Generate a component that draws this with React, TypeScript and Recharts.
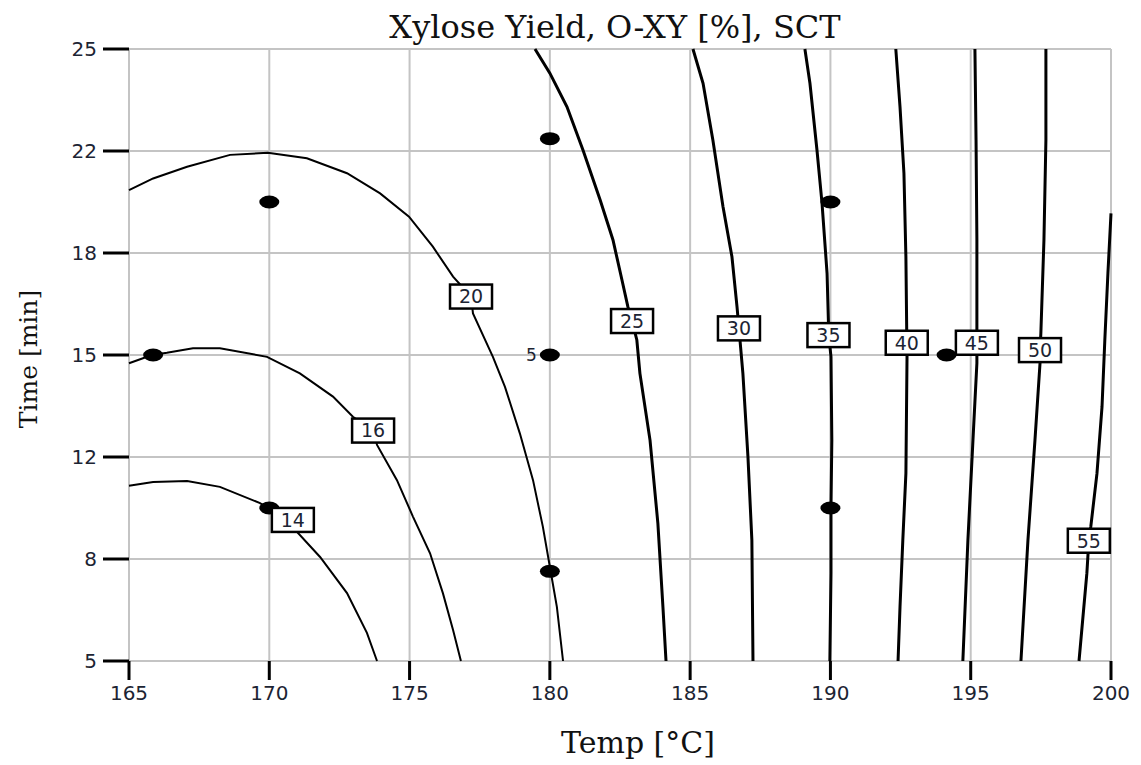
import React from 'react';
import { ComposedChart, Line, Scatter, XAxis, YAxis, CartesianGrid } from 'recharts';

// axis ticks
const tempTicks = [165, 170, 175, 180, 185, 190, 195, 200];
const timeTicks = [5, 25 / 3, 35 / 3, 15, 55 / 3, 65 / 3, 25];

// contour lines, [temp, time] pairs traced along each level
const c14 = [[165, 10.73], [165.86, 10.85], [167.07, 10.88], [168.24, 10.69], [169.67, 10.16], [169.95, 10.0], [170.84, 9.61], [170.99, 9.22], [171.81, 8.4], [172.77, 7.22], [173.48, 5.92], [173.84, 5.0]];
const c16 = [[165, 14.73], [165.82, 15.0], [166.35, 15.07], [167.28, 15.22], [168.24, 15.22], [169.92, 14.94], [171.09, 14.4], [172.27, 13.64], [172.98, 12.98], [173.7, 12.53], [173.84, 12.06], [174.55, 10.91], [175.12, 9.72], [175.73, 8.52], [176.19, 7.21], [176.55, 6.01], [176.83, 5.0]];
const c20 = [[165, 20.39], [165.86, 20.77], [167.07, 21.15], [168.6, 21.54], [169.95, 21.61], [171.34, 21.43], [172.77, 20.94], [173.95, 20.28], [174.98, 19.52], [175.83, 18.54], [176.55, 17.56], [177.19, 16.91], [177.26, 16.36], [177.97, 14.94], [178.4, 13.96], [178.93, 12.44], [179.4, 10.91], [179.75, 9.39], [180.0, 8.08], [180.25, 6.77], [180.47, 5.0]];
const c25 = [[179.47, 25], [180.0, 24.21], [180.61, 23.11], [181.18, 21.7], [181.79, 20.07], [182.25, 18.76], [182.57, 17.45], [182.78, 16.58], [182.93, 16.11], [183.1, 15.49], [183.21, 14.4], [183.57, 12.22], [183.85, 9.5], [184.03, 6.77], [184.14, 5.0]];
const c30 = [[185.1, 25], [185.46, 23.88], [185.81, 22.03], [186.17, 19.85], [186.49, 18.21], [186.67, 16.58], [186.74, 15.87], [186.88, 14.4], [187.06, 11.68], [187.2, 8.95], [187.24, 5.0]];
const c35 = [[189.09, 25], [189.27, 23.88], [189.52, 21.7], [189.7, 19.96], [189.88, 17.67], [189.93, 16.04], [189.94, 15.65], [190.02, 14.94], [190.05, 12.22], [190.02, 10.04], [190.02, 7.87], [189.98, 5.0]];
const c40 = [[192.33, 25], [192.48, 23.11], [192.62, 20.94], [192.69, 18.21], [192.72, 15.71], [192.72, 15.4], [192.73, 14.94], [192.69, 11.13], [192.58, 8.95], [192.48, 6.77], [192.41, 5.0]];
const c45 = [[195.15, 25], [195.19, 22.03], [195.22, 18.76], [195.22, 15.71], [195.22, 15.4], [195.22, 14.73], [195.08, 12.22], [194.9, 8.95], [194.72, 5.0]];
const c50 = [[197.68, 25], [197.68, 22.03], [197.61, 18.76], [197.5, 15.71], [197.47, 15.16], [197.47, 14.73], [197.29, 12.22], [197.04, 8.95], [196.79, 5.0]];
const c55 = [[200, 19.63], [199.89, 17.67], [199.78, 15.49], [199.68, 13.31], [199.5, 11.13], [199.28, 9.39], [199.21, 8.93], [199.14, 7.87], [198.86, 5.0]];

const contours = [
  { level: 14, pts: c14 },
  { level: 16, pts: c16 },
  { level: 20, pts: c20 },
  { level: 25, pts: c25 },
  { level: 30, pts: c30 },
  { level: 35, pts: c35 },
  { level: 40, pts: c40 },
  { level: 45, pts: c45 },
  { level: 50, pts: c50 },
  { level: 55, pts: c55 },
];

// where the level boxes sit on each line
const contourLabels = [
  { level: 14, x: 170.84, y: 9.61 },
  { level: 16, x: 173.7, y: 12.53 },
  { level: 20, x: 177.19, y: 16.91 },
  { level: 25, x: 182.93, y: 16.11 },
  { level: 30, x: 186.74, y: 15.87 },
  { level: 35, x: 189.93, y: 15.65 },
  { level: 40, x: 192.72, y: 15.4 },
  { level: 45, x: 195.22, y: 15.4 },
  { level: 50, x: 197.47, y: 15.16 },
  { level: 55, x: 199.21, y: 8.93 },
];

// design runs (temp, time, replicates)
const runs = [
  { x: 170, y: 10, reps: 1 },
  { x: 170, y: 20, reps: 1 },
  { x: 190, y: 10, reps: 1 },
  { x: 190, y: 20, reps: 1 },
  { x: 165.86, y: 15, reps: 1 },
  { x: 194.14, y: 15, reps: 1 },
  { x: 180, y: 7.93, reps: 1 },
  { x: 180, y: 22.07, reps: 1 },
  { x: 180, y: 15, reps: 5 },
];

const ink = '#1c2433';
const serif = 'DejaVu Serif';

const LevelBox = (props: any) => {
  const { cx, cy, payload } = props;
  return (
    <g>
      <rect x={cx - 21} y={cy - 12} width={42} height={24} fill="#fff" stroke="#000" strokeWidth={2.5} />
      <text x={cx} y={cy} dy="0.36em" textAnchor="middle" fontSize={19} fontFamily="DejaVu Sans" fill={ink}>
        {payload.level}
      </text>
    </g>
  );
};

const RunDot = (props: any) => {
  const { cx, cy, payload } = props;
  return (
    <g>
      <ellipse cx={cx} cy={cy} rx={10} ry={6.5} fill="#000" />
      {payload.reps > 1 && (
        <text x={cx - 13} y={cy} dy="0.36em" textAnchor="end" fontSize={17} fontFamily="DejaVu Sans" fill={ink}>
          {payload.reps}
        </text>
      )}
    </g>
  );
};

export default function App() {
  const lines = contours.map(c => ({ level: c.level, data: c.pts.map(([x, y]) => ({ x, y })) }));

  return (
    <div style={{ position: 'absolute', left: 0, top: 0, width: 1141, height: 765, background: '#fff' }}>
      <ComposedChart width={1141} height={765} margin={{ top: 49, right: 30, bottom: 0, left: 0 }}>
        <CartesianGrid stroke="#c4c4c4" strokeWidth={2} />
        <XAxis
          type="number"
          dataKey="x"
          domain={[165, 200]}
          ticks={tempTicks}
          height={104}
          axisLine={false}
          tickLine={{ stroke: '#000', strokeWidth: 3 }}
          tickSize={19}
          tickMargin={6}
          tick={{ fill: ink, fontSize: 20, fontFamily: 'DejaVu Sans' }}
        />
        <YAxis
          type="number"
          dataKey="y"
          domain={[5, 25]}
          ticks={timeTicks}
          tickFormatter={(v: number) => String(Math.round(v))}
          width={129}
          axisLine={false}
          tickLine={{ stroke: '#000', strokeWidth: 3 }}
          tickSize={26}
          tickMargin={6}
          tick={{ fill: ink, fontSize: 20, fontFamily: 'DejaVu Sans' }}
        />
        {lines.map(l => (
          <Line
            key={l.level}
            data={l.data}
            dataKey="y"
            type="linear"
            stroke="#000"
            strokeWidth={l.level >= 25 ? 3 : 2}
            dot={false}
            activeDot={false}
            isAnimationActive={false}
          />
        ))}
        <Scatter data={runs} dataKey="y" shape={RunDot} isAnimationActive={false} />
        <Scatter data={contourLabels} dataKey="y" shape={LevelBox} isAnimationActive={false} />
      </ComposedChart>
      <svg width={1141} height={765} style={{ position: 'absolute', left: 0, top: 0, pointerEvents: 'none' }}>
        <text x={615} y={38} textAnchor="middle" fontSize={32} fontFamily={serif} fill="#111">
          Xylose Yield, O-XY [%], SCT
        </text>
        <text x={638} y={753} textAnchor="middle" fontSize={30} fontFamily={serif} fill="#111">
          Temp [°C]
        </text>
        <text x={37} y={359} textAnchor="middle" fontSize={25} fontFamily={serif} fill="#111" transform="rotate(-90 37 359)">
          Time [min]
        </text>
      </svg>
    </div>
  );
}
